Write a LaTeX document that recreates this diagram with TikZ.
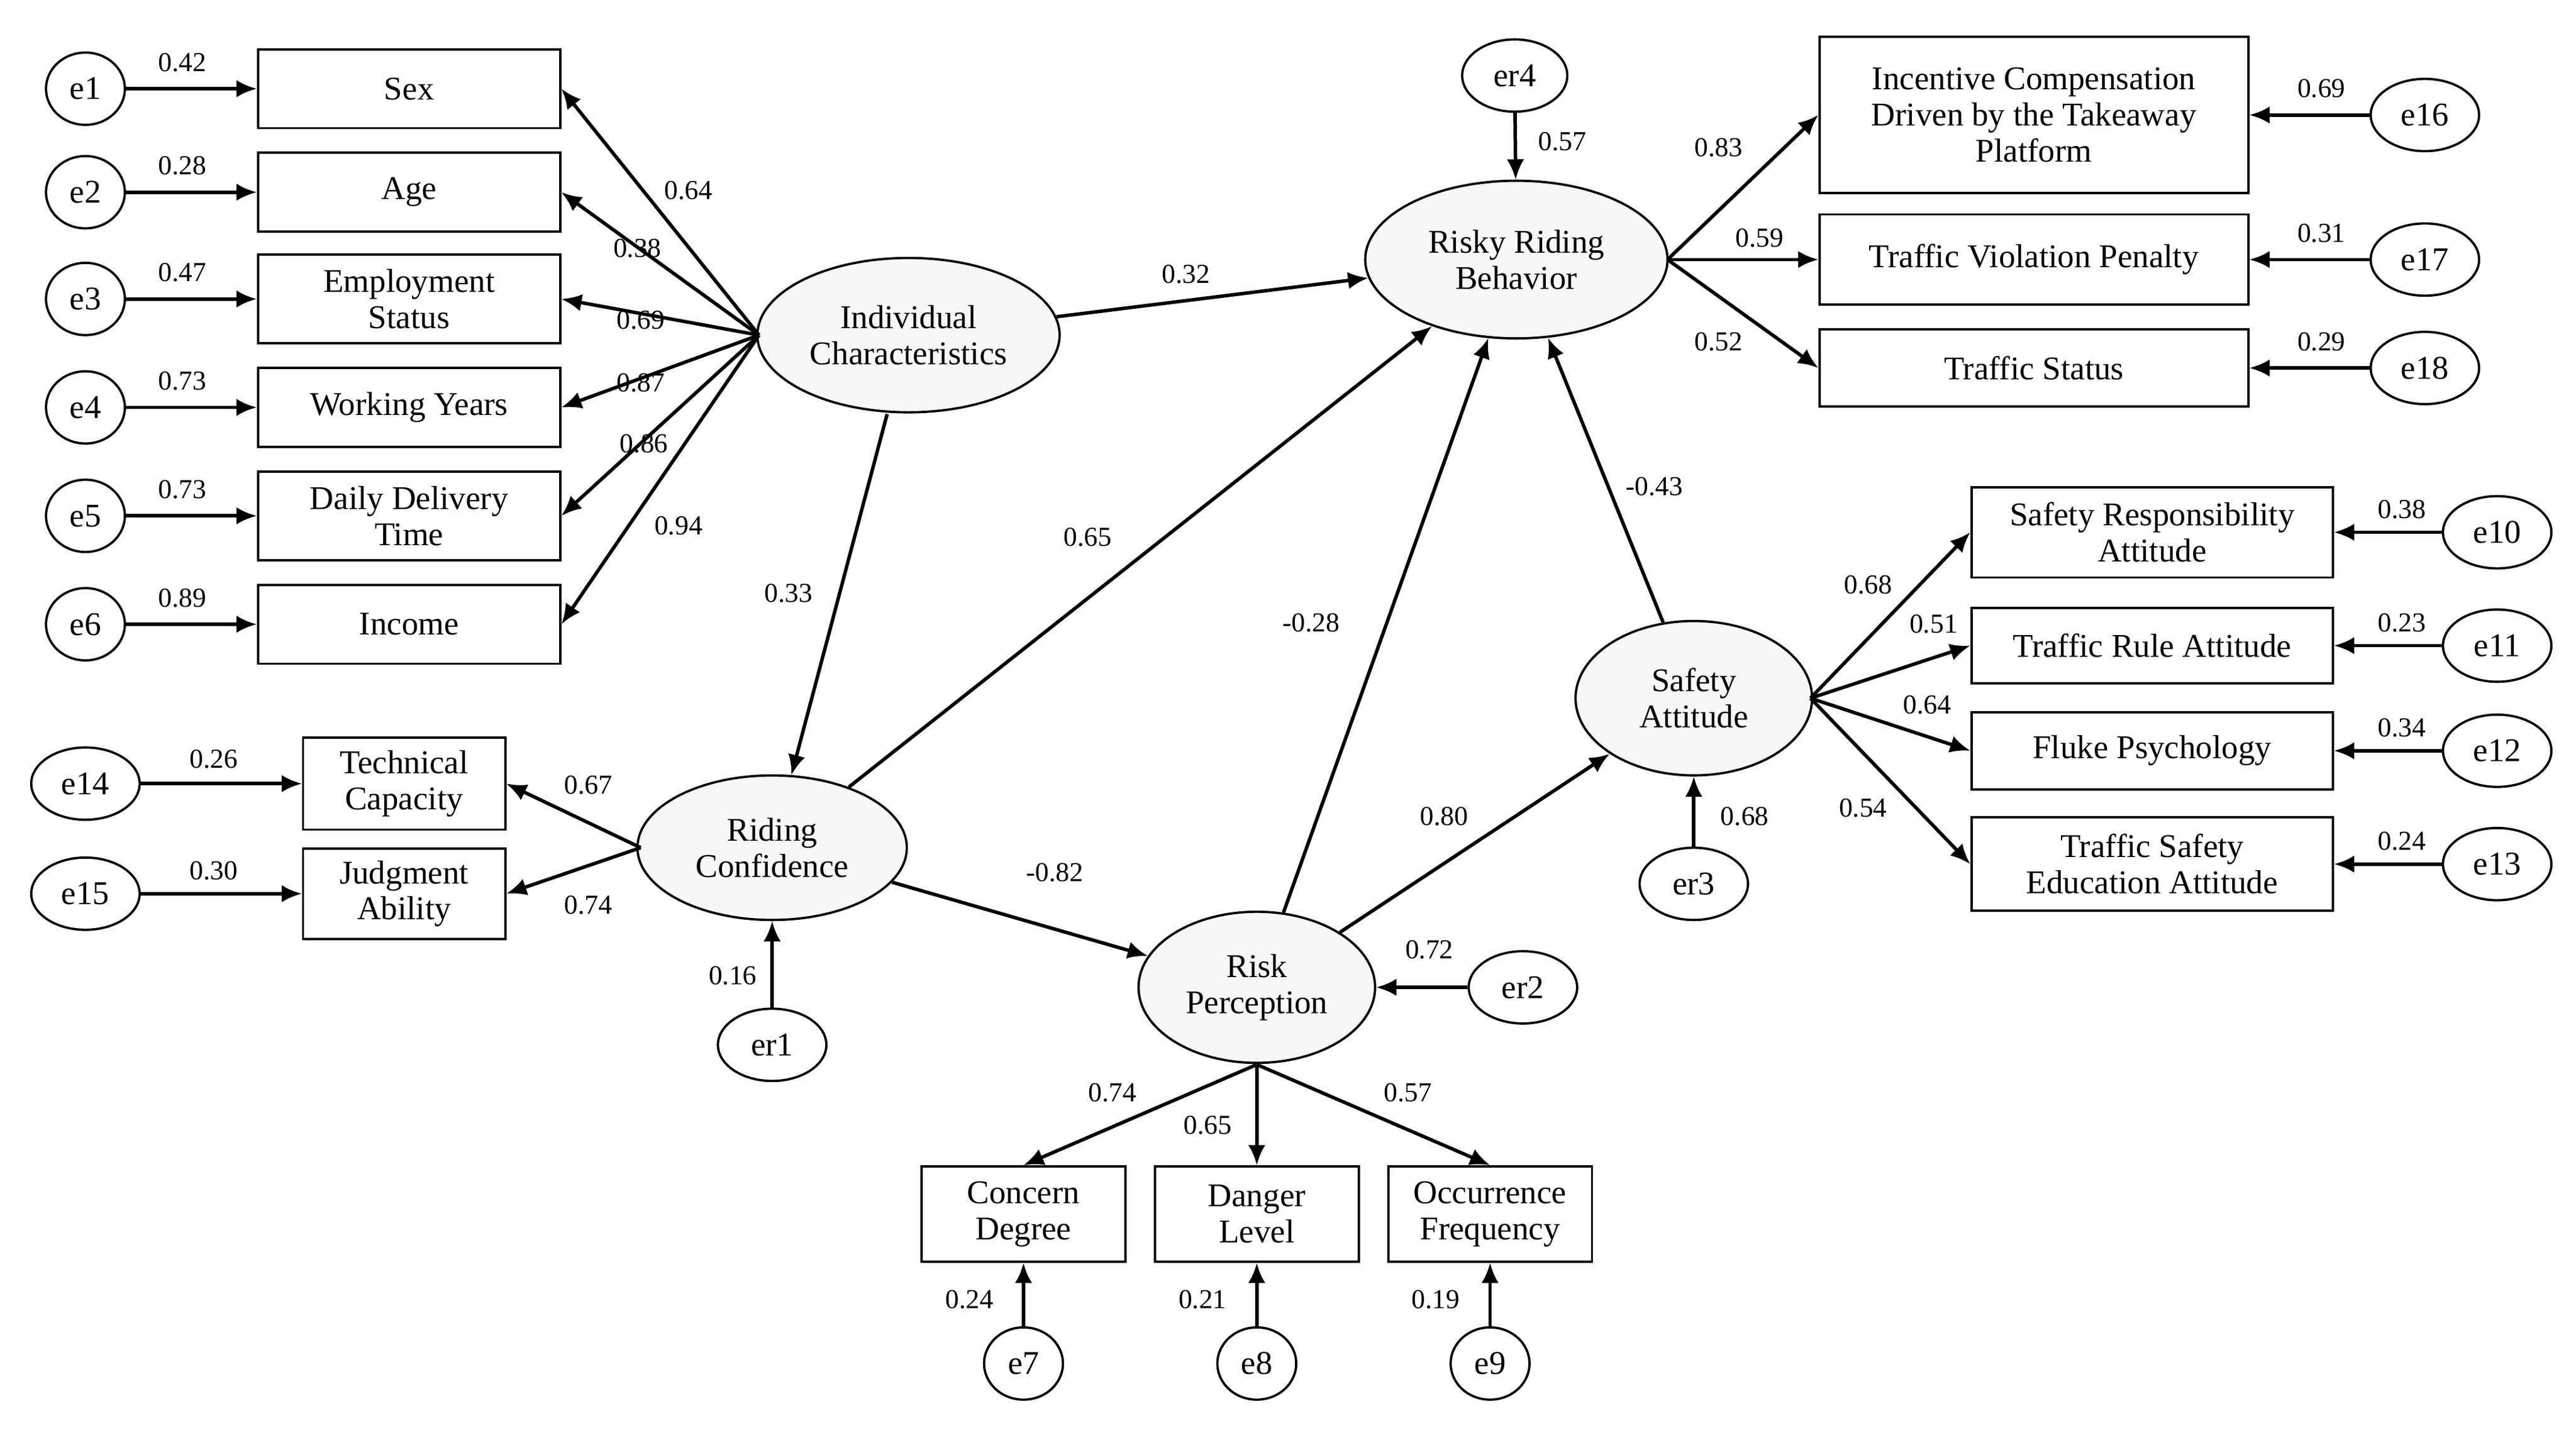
\documentclass[tikz,border=0pt]{standalone}
\usepackage{fontspec}
\setmainfont{Liberation Serif}
\usetikzlibrary{shapes.geometric,arrows.meta}
\begin{document}
\begin{tikzpicture}[x=0.02cm,y=-0.02cm,
 every node/.style={font=\fontsize{11.5}{12.5}\selectfont},
 box/.style={draw,line width=0.8pt,minimum width=#1*0.02cm,inner sep=1pt,align=center,fill=white},
 bx/.style={box=184,minimum height=0.96cm},
 bx2/.style={box=184,minimum height=1.08cm},
 lat/.style={draw,ellipse,line width=0.8pt,fill=gray!6,align=center,inner sep=0pt},
 err/.style={draw,ellipse,line width=0.8pt,minimum width=0.96cm,minimum height=0.88cm,inner sep=0pt,fill=white},
 ar/.style={-{Latex[length=7pt,width=6pt]},line width=1.2pt},
 lb/.style={font=\fontsize{9.5}{10}\selectfont,inner sep=1pt}]
\useasboundingbox (0,0) rectangle (1568,872);
% left column
\node[bx] (sex) at (249,54) {Sex};
\node[bx] (age) at (249,117) {Age};
\node[bx2] (emp) at (249,182) {Employment\\Status};
\node[bx] (wy) at (249,248) {Working Years};
\node[bx2] (ddt) at (249,314) {Daily Delivery\\Time};
\node[bx] (inc) at (249,380) {Income};
\foreach \i/\y/\b/\v in {1/54/sex/0.42,2/117/age/0.28,3/182/emp/0.47,4/248/wy/0.73,5/314/ddt/0.73,6/380/inc/0.89}{
 \node[err] (e\i) at (52,\y) {e\i};
 \draw[ar] (e\i) -- (\b);
 \node[lb] at (111,\y-16) {\v};
}
\node[lat,minimum width=3.68cm,minimum height=1.88cm] (ic) at (553,204) {Individual\\Characteristics};
\coordinate (icl) at (462,204);
\foreach \b in {sex,age,emp,wy,ddt,inc}{\draw[ar] (icl) -- (\b.east);}
\node[lb] at (419,116) {0.64};
\node[lb] at (388,151) {0.38};
\node[lb] at (390,195) {0.69};
\node[lb] at (390,233) {0.87};
\node[lb] at (392,270) {0.86};
\node[lb] at (413,320) {0.94};
% RRB
\node[lat,minimum width=3.68cm,minimum height=1.92cm] (rrb) at (923,158) {Risky Riding\\Behavior};
\node[err,minimum width=1.28cm] (er4) at (922,46) {er4};
\draw[ar] (er4) -- (rrb); \node[lb] at (951,86) {0.57};
\node[box=261,minimum height=1.9cm] (icd) at (1238,70) {Incentive Compensation\\Driven by the Takeaway\\Platform};
\node[box=261,minimum height=1.1cm] (tvp) at (1238,158) {Traffic Violation Penalty};
\node[box=261,minimum height=0.94cm] (ts) at (1238,224) {Traffic Status};
\coordinate (rrbr) at (1015,158);
\draw[ar] (rrbr) -- (icd.west); \draw[ar] (rrbr) -- (tvp.west); \draw[ar] (rrbr) -- (ts.west);
\node[lb] at (1046,90) {0.83}; \node[lb] at (1071,145) {0.59}; \node[lb] at (1046,208) {0.52};
\foreach \i/\y/\b/\v in {16/70/icd/0.69,17/158/tvp/0.31,18/224/ts/0.29}{
 \node[err,minimum width=1.32cm] (e\i) at (1476,\y) {e\i};
 \draw[ar] (e\i) -- (\b);
 \node[lb] at (1413,\y-16) {\v};
}
% Safety attitude
\node[lat,minimum width=2.88cm,minimum height=1.88cm] (sa) at (1031,425) {Safety\\Attitude};
\node[err,minimum width=1.32cm] (er3) at (1031,538) {er3};
\draw[ar] (er3) -- (sa); \node[lb] at (1062,497) {0.68};
\node[box=220,minimum height=1.1cm] (sra) at (1310,324) {Safety Responsibility\\Attitude};
\node[box=220,minimum height=0.92cm] (tra) at (1310,393) {Traffic Rule Attitude};
\node[box=220,minimum height=0.94cm] (fp) at (1310,457) {Fluke Psychology};
\node[box=220,minimum height=1.14cm] (tse) at (1310,526) {Traffic Safety\\Education Attitude};
\coordinate (sar) at (1102,425);
\foreach \b in {sra,tra,fp,tse}{\draw[ar] (sar) -- (\b.west);}
\node[lb] at (1137,356) {0.68}; \node[lb] at (1177,380) {0.51};
\node[lb] at (1173,429) {0.64}; \node[lb] at (1134,492) {0.54};
\foreach \i/\y/\b/\v in {10/324/sra/0.38,11/393/tra/0.23,12/457/fp/0.34,13/526/tse/0.24}{
 \node[err,minimum width=1.32cm] (e\i) at (1520,\y) {e\i};
 \draw[ar] (e\i) -- (\b);
 \node[lb] at (1462,\y-14) {\v};
}
% Riding confidence
\node[lat,minimum width=3.28cm,minimum height=1.76cm] (rc) at (470,516) {Riding\\Confidence};
\node[box=123,minimum height=1.12cm] (tc) at (246,477) {Technical\\Capacity};
\node[box=123,minimum height=1.1cm] (ja) at (246,544) {Judgment\\Ability};
\coordinate (rcl) at (390,516);
\draw[ar] (rcl) -- (tc.east); \draw[ar] (rcl) -- (ja.east);
\node[lb] at (358,478) {0.67}; \node[lb] at (358,551) {0.74};
\node[err,minimum width=1.32cm] (e14) at (52,477) {e14};
\node[err,minimum width=1.32cm] (e15) at (52,544) {e15};
\draw[ar] (e14) -- (tc); \draw[ar] (e15) -- (ja);
\node[lb] at (130,462) {0.26}; \node[lb] at (130,530) {0.30};
\node[err,minimum width=1.32cm] (er1) at (470,636) {er1};
\draw[ar] (er1) -- (rc); \node[lb] at (446,594) {0.16};
% Risk perception
\node[lat,minimum width=2.88cm,minimum height=1.84cm] (rp) at (765,601) {Risk\\Perception};
\node[err,minimum width=1.32cm] (er2) at (927,601) {er2};
\draw[ar] (er2) -- (rp); \node[lb] at (870,578) {0.72};
\node[box=124,minimum height=1.16cm] (cd) at (623,739) {Concern\\Degree};
\node[box=124,minimum height=1.16cm] (dl) at (765,739) {Danger\\Level};
\node[box=124,minimum height=1.16cm] (of) at (907,739) {Occurrence\\Frequency};
\coordinate (rpb) at (765,648);
\draw[ar] (rpb) -- (cd.north); \draw[ar] (rpb) -- (dl.north); \draw[ar] (rpb) -- (of.north);
\node[lb] at (677,665) {0.74}; \node[lb] at (735,685) {0.65}; \node[lb] at (857,665) {0.57};
\foreach \i/\x/\b/\v in {7/623/cd/0.24,8/765/dl/0.21,9/907/of/0.19}{
 \node[err] (e\i) at (\x,830) {e\i};
 \draw[ar] (e\i) -- (\b);
 \node[lb] at (\x-33,791) {\v};
}
% structural
\draw[ar] (ic) -- (rrb); \node[lb] at (722,167) {0.32};
\draw[ar] (540,252) -- (rc); \node[lb] at (480,361) {0.33};
\draw[ar] (rc) -- (rrb); \node[lb] at (662,327) {0.65};
\draw[ar] (rp) -- (rrb); \node[lb] at (798,379) {-0.28};
\draw[ar] (sa) -- (rrb); \node[lb] at (1007,296) {-0.43};
\draw[ar] (rc) -- (rp); \node[lb] at (642,531) {-0.82};
\draw[ar] (rp) -- (sa); \node[lb] at (879,497) {0.80};
\end{tikzpicture}
\end{document}
